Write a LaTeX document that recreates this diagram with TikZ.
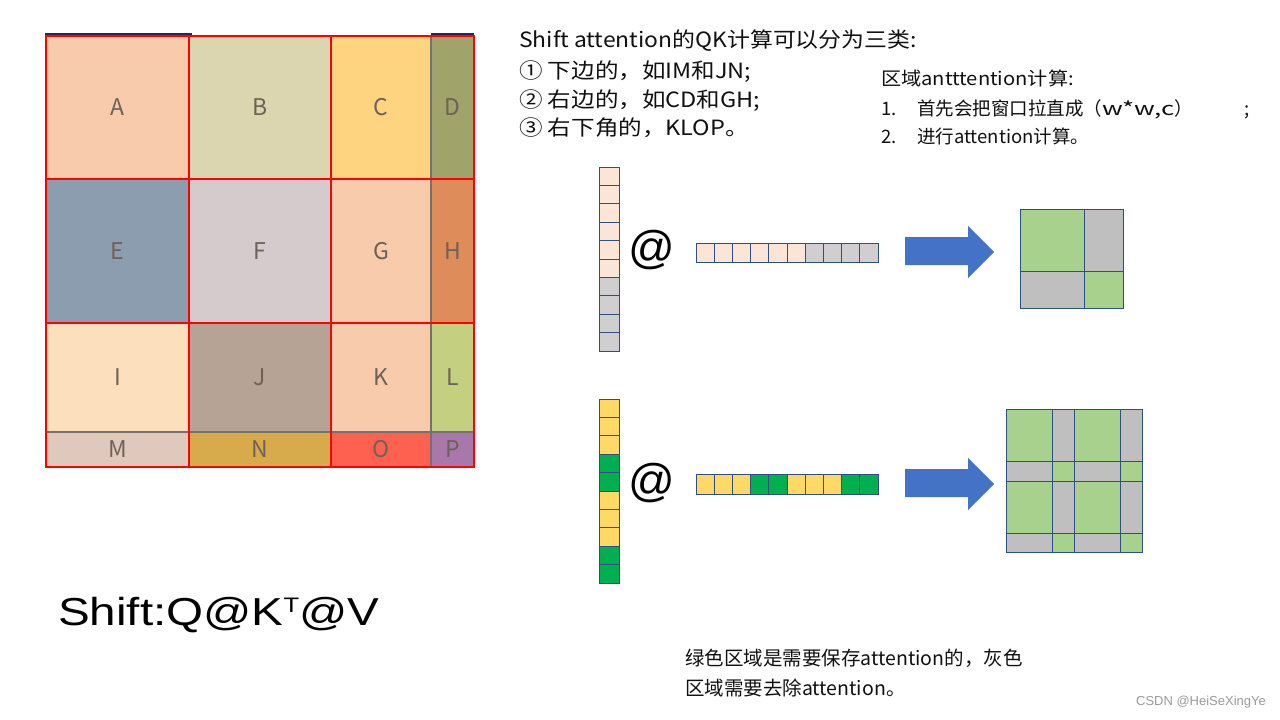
\documentclass[tikz,border=0pt]{standalone}
\usepackage{fontspec}
\setmainfont{Noto Sans CJK SC}
\newfontfamily\arialf{Liberation Sans}
\definecolor{cA}{HTML}{F8CBAD}
\definecolor{cB}{HTML}{DCD6B0}
\definecolor{cC}{HTML}{FED480}
\definecolor{cD}{HTML}{A0A46B}
\definecolor{cE}{HTML}{8C9DB0}
\definecolor{cF}{HTML}{D5CACC}
\definecolor{cG}{HTML}{F8CBAD}
\definecolor{cH}{HTML}{DE8C59}
\definecolor{cI}{HTML}{FCE0BE}
\definecolor{cJ}{HTML}{B6A396}
\definecolor{cK}{HTML}{F8CBAD}
\definecolor{cL}{HTML}{C4D07F}
\definecolor{cM}{HTML}{DFC9BC}
\definecolor{cN}{HTML}{D7AA4B}
\definecolor{cO}{HTML}{FF6150}
\definecolor{cP}{HTML}{A878AA}
\definecolor{labgray}{HTML}{6E6158}
\definecolor{gline}{HTML}{767171}
\definecolor{navy}{HTML}{1F2A5C}
\definecolor{vpeach}{HTML}{FBE5D6}
\definecolor{vgray}{HTML}{D0CECE}
\definecolor{vyellow}{HTML}{FFD966}
\definecolor{vgreen}{HTML}{00B050}
\definecolor{mgreen}{HTML}{A9D18E}
\definecolor{mgray}{HTML}{BFBFBF}
\definecolor{vborder}{HTML}{2F4F7F}
\definecolor{ablue}{HTML}{4472C4}
\definecolor{wmgray}{HTML}{9A9A9A}
\definecolor{txtcol}{HTML}{111111}
\newcommand{\wideA}[1]{\scalebox{1.12}[1]{#1}}
\tikzset{
  lab/.style={text=labgray, font=\fontsize{23}{23}\selectfont, inner sep=0pt},
  graysep/.style={draw=gline, line width=2pt},
  redwin/.style={draw=red, line width=2.5pt},
  vcell/.style={draw=vborder, line width=0.8pt},
  mcell/.style={draw=vborder, line width=1pt},
  bigarrow/.style={fill=ablue},
  txta/.style={font=\fontsize{21}{21}\selectfont, text=txtcol, inner sep=0pt, anchor=base west},
  txtb/.style={font=\fontsize{18.5}{18.5}\selectfont, text=txtcol, inner sep=0pt, anchor=base west},
  txtc/.style={font=\fontsize{19.5}{19.5}\selectfont, text=txtcol, inner sep=0pt, anchor=base west},
  atsym/.style={font=\arialf\fontsize{46}{46}\selectfont, inner sep=0pt}
}
\begin{document}
\begin{tikzpicture}[x=1pt,y=-1pt]
\useasboundingbox (0,0) rectangle (1280,720);
\fill[white] (0,0) rectangle (1280,720);
% grid cells
\foreach \n/\xa/\ya/\xb/\yb in {A/46/36/189/179, B/189/36/331/179, C/331/36/431/179, D/431/36/474/179,
  E/46/179/189/323, F/189/179/331/323, G/331/179/431/323, H/431/179/474/323,
  I/46/323/189/432, J/189/323/331/432, K/331/323/431/432, L/431/323/474/432,
  M/46/432/189/467, N/189/432/331/467, O/331/432/431/467, P/431/432/474/467}{
  \fill[c\n] (\xa,\ya) rectangle (\xb,\yb);
  \node[lab] (\n) at ({(\xa+\xb)/2},{(\ya+\yb)/2}) {\n};
}
\draw[graysep] (431,36) -- (431,467);
\draw[graysep] (46,432) -- (474,432);
\draw[graysep] (46,36) rectangle (474,467);
\draw[draw=navy, line width=1.5pt] (45,34) -- (192,34);
\draw[draw=navy, line width=1.5pt] (431,34) -- (474,34);
% red windows
\foreach \xa/\xb in {46/189,189/331,331/474}{
  \foreach \ya/\yb in {36/179,179/323,323/467}{
    \draw[redwin] (\xa,\ya) rectangle (\xb,\yb);
  }
}
% texts top
\node[txta] (t1) at (519,47) {\scalebox{1.09}[1]{Shift attention的QK计算可以分为三类:}};
\node[txta] (t2) at (519,78) {\wideA{① 下边的，如IM和JN;}};
\node[txta] (t3) at (519,107) {\wideA{② 右边的，如CD和GH;}};
\node[txta] (t4) at (519,135) {\wideA{③ 右下角的，KLOP。}};
\node[txtb] (u1) at (881,85) {\scalebox{1.09}[1]{区域antttention计算:}};
\node[txtb] (u2n) at (881,115) {1.};
\node[txtb] (u2) at (917,115) {首先会把窗口拉直成（\scalebox{1.4}[1]{w*w,c}）\hspace{52pt};};
\node[txtb] (u3n) at (881,143) {2.};
\node[txtb] (u3) at (917,143) {进行attention计算。};
% vectors row 1
\foreach \c [count=\i from 0] in {vpeach,vpeach,vpeach,vpeach,vpeach,vpeach,vgray,vgray,vgray,vgray}{
  \filldraw[vcell, fill=\c] (599,{167+\i*18.4}) rectangle (619,{167+(\i+1)*18.4});
  \filldraw[vcell, fill=\c] ({696+\i*18.2},243) rectangle ({696+(\i+1)*18.2},262);
}
\node[atsym] (at1) at (652,250) {@};
% vectors row 2
\foreach \c [count=\i from 0] in {vyellow,vyellow,vyellow,vgreen,vgreen,vyellow,vyellow,vyellow,vgreen,vgreen}{
  \filldraw[vcell, fill=\c] (599,{399+\i*18.4}) rectangle (619,{399+(\i+1)*18.4});
  \filldraw[vcell, fill=\c] ({696+\i*18.2},474) rectangle ({696+(\i+1)*18.2},494);
}
\node[atsym] (at2) at (652,483) {@};
% arrows
\fill[bigarrow] (905,237) -- (968,237) -- (968,226) -- (994,252) -- (968,278) -- (968,265) -- (905,265) -- cycle;
\fill[bigarrow] (905,469) -- (968,469) -- (968,458) -- (994,484) -- (968,510) -- (968,497) -- (905,497) -- cycle;
% matrix 1
\filldraw[mcell, fill=mgreen] (1020,209) rectangle (1084,271);
\filldraw[mcell, fill=mgray] (1084,209) rectangle (1123,271);
\filldraw[mcell, fill=mgray] (1020,271) rectangle (1084,308);
\filldraw[mcell, fill=mgreen] (1084,271) rectangle (1123,308);
% matrix 2
\foreach \xa/\xb [count=\ci] in {1006/1052,1052/1074,1074/1120,1120/1142}{
  \foreach \ya/\yb [count=\ri] in {409/461,461/481,481/533,533/552}{
    \pgfmathtruncatemacro\pp{mod(\ci+\ri,2)}
    \ifnum\pp=0
      \filldraw[mcell, fill=mgreen] (\xa,\ya) rectangle (\xb,\yb);
    \else
      \filldraw[mcell, fill=mgray] (\xa,\ya) rectangle (\xb,\yb);
    \fi
  }
}
% formula
\node[inner sep=0pt, anchor=base west] (formula) at (58,625) {\scalebox{1.22}[1]{\arialf\fontsize{39}{39}\selectfont Shift:Q@K\raisebox{12.9pt}{\fontsize{21}{21}\selectfont T}@V}};
% bottom text
\node[txtc] (b1) at (685,665) {绿色区域是需要保存attention的，灰色};
\node[txtc] (b2) at (685,695) {区域需要去除attention。};
\node[font=\arialf\fontsize{13}{13}\selectfont, text=wmgray, inner sep=0pt] (wm) at (1201,702) {CSDN @HeiSeXingYe};
\end{tikzpicture}
\end{document}
